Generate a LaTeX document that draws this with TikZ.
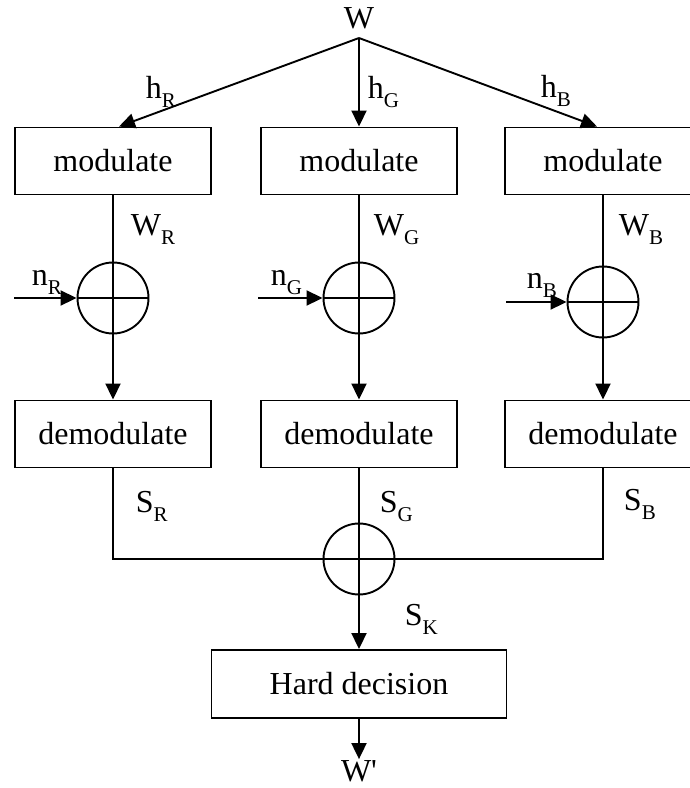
\documentclass[tikz,border=0pt]{standalone}
\usepackage{fontspec}
\setmainfont{Liberation Serif}
\usetikzlibrary{arrows.meta,calc}
\newcommand\sbx[1]{\raisebox{-9pt}{\fontsize{21}{21}\selectfont #1}}
\begin{document}
\begin{tikzpicture}[x=1pt,y=-1pt,
  line width=1.9pt,
  >={Triangle[length=16pt,width=15pt]},
  txt/.style={font=\fontsize{32}{38}\selectfont, inner sep=0pt},
  blk/.style={draw, txt, minimum width=196pt, minimum height=67pt},
  hdblk/.style={draw, txt, minimum width=295pt, minimum height=68pt},
  adder/.style={draw, circle, minimum size=71pt, inner sep=0pt},
  lbl/.style={txt, anchor=base west}]
\useasboundingbox (0,0) rectangle (689,788);
% source
\node[txt] (W) at (359,18) {W};
\coordinate (apex) at (359,38);
% modulate boxes
\node[blk] (modR) at (113,161) {modulate};
\node[blk] (modG) at (359,161) {modulate};
\node[blk] (modB) at (603,161) {modulate};
% adders
\node[adder] (sumR) at (113,298) {};
\node[adder] (sumG) at (359,298) {};
\node[adder] (sumB) at (603,302) {};
% demodulate boxes
\node[blk] (demR) at (113,434) {demodulate};
\node[blk] (demG) at (359,434) {demodulate};
\node[blk] (demB) at (603,434) {demodulate};
% final adder and decision
\node[adder] (sum) at (359,559) {};
\node[hdblk] (hd) at (359,684) {Hard decision};
\node[txt, anchor=base] (Wp) at (359,781) {W\textquotesingle};
% noise sources
\coordinate (nR) at (14,298);
\coordinate (nG) at (258,298);
\coordinate (nB) at (506,302);
% connectors from W
\draw[->] (apex) -- ($(modR.north)+(6,0)$);
\draw[->] (apex) -- (modG.north);
\draw[->] (apex) -- ($(modB.north)+(-6,0)$);
% channels
\foreach \c in {R,G,B}{
  \draw[->] (mod\c.south) -- (sum\c.north) -- (sum\c.south) -- (dem\c.north);
  \draw[->] (n\c) -- (sum\c.west);
  \draw (sum\c.west) -- (sum\c.east);
}
% combining
\draw (demR.south) |- (sum.west) -- (sum.east) -| (demB.south);
\draw[->] (demG.south) -- (sum.north) -- (sum.south) -- (hd.north);
\draw[->] (hd.south) -- (Wp.north);
% labels
\node[lbl] (lhR) at (145,98) {h\sbx{R}};
\node[lbl] (lhG) at (367,98) {h\sbx{G}};
\node[lbl] (lhB) at (540,97) {h\sbx{B}};
\node[lbl] (lWR) at (130,235) {W\sbx{R}};
\node[lbl] (lWG) at (373,235) {W\sbx{G}};
\node[lbl] (lWB) at (618,235) {W\sbx{B}};
\node[lbl] (lnR) at (31,285) {n\sbx{R}};
\node[lbl] (lnG) at (270,285) {n\sbx{G}};
\node[lbl] (lnB) at (526,288) {n\sbx{B}};
\node[lbl] (lSR) at (135,512) {S\sbx{R}};
\node[lbl] (lSG) at (379,512) {S\sbx{G}};
\node[lbl] (lSB) at (623,510) {S\sbx{B}};
\node[lbl] (lSK) at (404,625) {S\sbx{K}};
\end{tikzpicture}
\end{document}
